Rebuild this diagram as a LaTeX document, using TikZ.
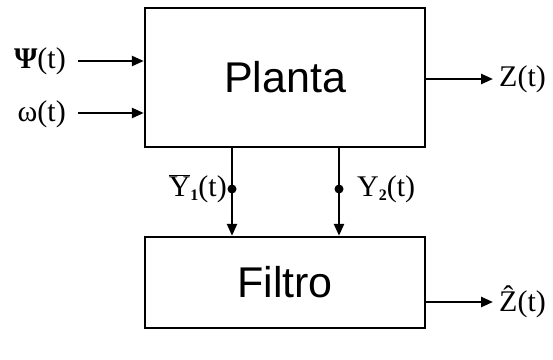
\documentclass[tikz,border=0pt]{standalone}
\usepackage{fontspec}
\setmainfont{Liberation Serif}
\newfontfamily\boxfont{Liberation Sans}
\usetikzlibrary{arrows.meta}
\tikzset{
  blockbox/.style={draw, line width=2.4pt, minimum width=280pt, inner sep=0pt, font=\boxfont\fontsize{43}{45}\selectfont},
  sig/.style={line width=2.4pt, -{Triangle[length=12pt,width=10pt]}},
  lbl/.style={font=\fontsize{30}{32}\selectfont, inner sep=0pt},
  tap/.style={circle, fill, inner sep=0pt, minimum size=9pt}
}
\begin{document}
\begin{tikzpicture}[x=1pt,y=-1pt]
\useasboundingbox (0,0) rectangle (553,359);
\node[blockbox, minimum height=139pt] (planta) at (285,77.5) {Planta};
\node[blockbox, minimum height=91pt] (filtro) at (285,282.5) {Filtro};
% inputs
\node[lbl, anchor=east] (psi) at (66,61) {\textbf{Ψ}(t)};
\node[lbl, anchor=east] (om) at (66,114) {ω(t)};
\coordinate (psis) at (78,61);
\coordinate (oms) at (78,113);
\draw[sig] (psis) -- (planta.west |- psis);
\draw[sig] (oms) -- (planta.west |- oms);
% outputs
\coordinate (zs) at (425,79);
\coordinate (ze) at (493,79);
\draw[sig] (planta.east |- zs) -- (ze);
\node[lbl, anchor=west] (z) at (499,79) {Z(t)};
\coordinate (zhs) at (425,302);
\coordinate (zhe) at (493,302);
\draw[sig] (filtro.east |- zhs) -- (zhe);
\node[lbl, anchor=west] (zh) at (499,302) {\^{Z}(t)};
% measurements
\coordinate (y1) at (232,189);
\coordinate (y2) at (339,189);
\draw[sig] (planta.south -| y1) -- (filtro.north -| y1);
\draw[sig] (planta.south -| y2) -- (filtro.north -| y2);
\node[tap] (d1) at (y1) {};
\node[tap] (d2) at (y2) {};
\node[lbl, anchor=east] (l1) at (227,189) {$\overline{\hbox{Y}}$\raisebox{-0.3ex}{\fontsize{16}{17}\selectfont\bfseries 1}(t)};
\node[lbl, anchor=west] (l2) at (357,189) {Y\raisebox{-0.3ex}{\fontsize{16}{17}\selectfont\bfseries 2}(t)};
\end{tikzpicture}
\end{document}
